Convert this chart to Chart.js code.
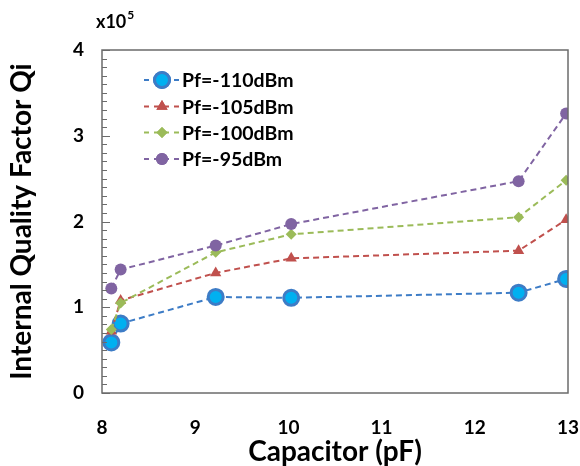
<!DOCTYPE html>
<html><head><meta charset="utf-8">
<script src="https://cdn.jsdelivr.net/npm/chart.js@4"></script>
<style>html,body{margin:0;padding:0;background:#fff}#wrap{width:580px;height:466px;position:relative}</style>
</head><body><div id="wrap"><canvas id="c" width="580" height="466"></canvas></div>
<script>
const capacitors = [8.1, 8.2, 9.22, 10.03, 12.47, 12.98];
const seriesNames = ['Pf=-110dBm','Pf=-105dBm','Pf=-100dBm','Pf=-95dBm'];
const qi110 = [0.59, 0.81, 1.12, 1.11, 1.17, 1.33];
const qi105 = [0.72, 1.08, 1.40, 1.57, 1.66, 2.02];
const qi100 = [0.74, 1.05, 1.64, 1.85, 2.05, 2.48];
const qi95  = [1.22, 1.44, 1.72, 1.97, 2.47, 3.26];
const xTicks = [8, 9, 10, 11, 12, 13];
const yTicks = [0, 1, 2, 3, 4];

const FONT = 'Lato, "Open Sans", sans-serif';
const styles = [
  {color:'#3d7cc6', bg:'#00b0f0', style:'circle', r:7.5, bw:3},
  {color:'#c0504d', bg:'#c0504d', style:'triangle', r:6.5, bw:0},
  {color:'#9bbb59', bg:'#9bbb59', style:'rectRot', r:5.5, bw:0},
  {color:'#8064a2', bg:'#8064a2', style:'circle', r:6, bw:0}
];
const values = [qi110, qi105, qi100, qi95];

const datasets = values.map((v,i)=>({
  label: seriesNames[i],
  data: capacitors.map((x,j)=>({x:x, y:v[j]})),
  borderColor: styles[i].color,
  borderWidth: 2,
  borderDash: [6,4],
  pointStyle: styles[i].style,
  pointRadius: styles[i].r,
  pointHoverRadius: styles[i].r,
  pointBackgroundColor: styles[i].bg,
  pointBorderColor: styles[i].color,
  pointBorderWidth: styles[i].bw,
  fill:false, tension:0
})).reverse();

const extras = {
  id:'extras',
  afterDraw(chart){
    const ctx = chart.ctx, a = chart.chartArea, ys = chart.scales.y;
    ctx.save();
    ctx.strokeStyle = '#6b6b6b'; ctx.lineWidth = 1.5;
    ctx.strokeRect(a.left, a.top, a.right-a.left, a.bottom-a.top);
    ctx.lineWidth = 1;
    for (let k=0;k<=40;k++){
      const y = Math.round(ys.getPixelForValue(k/10))+0.5;
      const len = (k%10===0)?8:5;
      ctx.beginPath(); ctx.moveTo(a.left, y); ctx.lineTo(a.left+len, y); ctx.stroke();
    }
    ctx.fillStyle = '#000';
    ctx.font = 'bold 18px ' + FONT;
    ctx.textBaseline = 'alphabetic'; ctx.textAlign='left';
    ctx.fillText('x10', 96, 28);
    const w = ctx.measureText('x10').width;
    ctx.font = 'bold 12px ' + FONT;
    ctx.fillText('5', 96+w+1, 19);
    const rows = [80, 106.5, 132.5, 159];
    ctx.textBaseline = 'middle';
    for (let i=0;i<4;i++){
      const s = styles[i], y = rows[i];
      ctx.strokeStyle = s.color; ctx.lineWidth = 2; ctx.setLineDash([5,5]);
      ctx.beginPath(); ctx.moveTo(144,y); ctx.lineTo(180,y); ctx.stroke();
      ctx.setLineDash([]);
      ctx.fillStyle = s.bg; ctx.strokeStyle = s.color; ctx.lineWidth = s.bw || 1;
      Chart.helpers.drawPoint(ctx, {pointStyle:s.style, radius:s.r, borderWidth:s.bw, rotation:0}, 162, y);
      ctx.fill(); if (s.bw) ctx.stroke();
      ctx.fillStyle = '#000'; ctx.font = 'bold 19.5px ' + FONT;
      ctx.fillText(seriesNames[i], 182, y+1);
    }
    ctx.restore();
  }
};

new Chart(document.getElementById('c'), {
  type:'line',
  data:{datasets},
  options:{
    responsive:false, animation:false,
    layout:{padding:{left:0, top:50, right:12, bottom:0}},
    plugins:{legend:{display:false}, tooltip:{enabled:false}},
    scales:{
      x:{type:'linear', min:8, max:13,
        afterBuildTicks(s){ s.ticks = xTicks.map(v=>({value:v})); },
        afterFit(s){ s.height = 73; s.paddingLeft = 0; s.paddingRight = 0; },
        grid:{display:false, drawTicks:false},
        border:{display:false},
        ticks:{color:'#000', font:{family:FONT, size:19, weight:'bold'}, padding:23},
        title:{display:true, text:'Capacitor (pF)', color:'#000', font:{family:FONT, size:28, weight:'bold', lineHeight:1.0}, padding:{top:5,bottom:0}}
      },
      y:{min:0, max:4,
        afterBuildTicks(s){ s.ticks = yTicks.map(v=>({value:v})); },
        afterFit(s){ s.width = 102; s.paddingTop = 0; s.paddingBottom = 0; },
        grid:{display:false, drawTicks:false},
        border:{display:false},
        ticks:{color:'#000', font:{family:FONT, size:19, weight:'bold'}, padding:18},
        title:{display:true, text:'Internal Quality Factor Qi', color:'#000', font:{family:FONT, size:28, weight:'bold'}, padding:{top:5,bottom:0}}
      }
    }
  },
  plugins:[extras]
});
</script></body></html>
